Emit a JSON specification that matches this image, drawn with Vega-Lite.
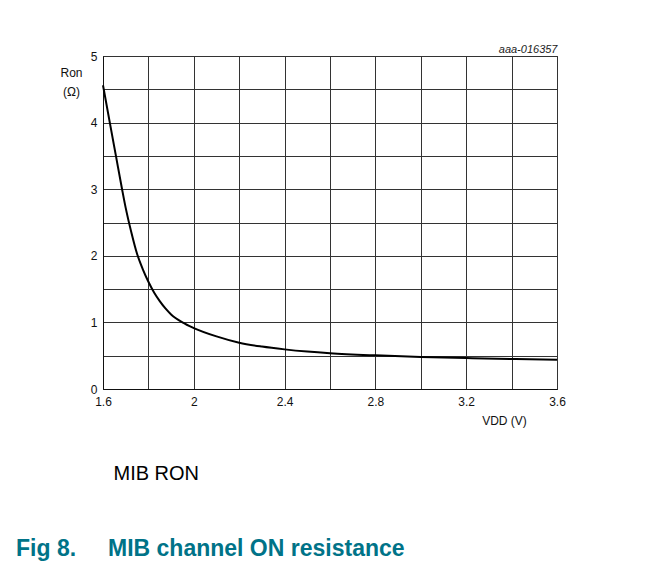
{
  "$schema": "https://vega.github.io/schema/vega-lite/v6.json",
  "width": 454,
  "height": 333,
  "autosize": "none",
  "padding": {"left": 103, "top": 56, "right": 103, "bottom": 180},
  "background": "white",
  "config": {
    "view": {"stroke": "#222", "strokeWidth": 1},
    "font": "Liberation Sans"
  },
  "title": {
    "text": "Fig 8.\u00a0\u00a0\u00a0\u00a0 MIB channel ON resistance",
    "orient": "bottom",
    "anchor": "start",
    "frame": "group",
    "dx": -87,
    "offset": 55,
    "font": "Liberation Sans",
    "fontSize": 23,
    "fontWeight": "bold",
    "color": "#007388"
  },
  "data": {
    "values": [
      {"vdd": 1.6, "ron": 4.56},
      {"vdd": 1.63, "ron": 4.0},
      {"vdd": 1.657, "ron": 3.5},
      {"vdd": 1.684, "ron": 3.0},
      {"vdd": 1.7, "ron": 2.72},
      {"vdd": 1.725, "ron": 2.35},
      {"vdd": 1.75, "ron": 2.03},
      {"vdd": 1.775, "ron": 1.8},
      {"vdd": 1.8, "ron": 1.61},
      {"vdd": 1.825, "ron": 1.45},
      {"vdd": 1.85, "ron": 1.32},
      {"vdd": 1.875, "ron": 1.21},
      {"vdd": 1.9, "ron": 1.12},
      {"vdd": 1.95, "ron": 1.0},
      {"vdd": 2.0, "ron": 0.915},
      {"vdd": 2.1, "ron": 0.79},
      {"vdd": 2.2, "ron": 0.695},
      {"vdd": 2.3, "ron": 0.637},
      {"vdd": 2.4, "ron": 0.595},
      {"vdd": 2.5, "ron": 0.562},
      {"vdd": 2.6, "ron": 0.537},
      {"vdd": 2.8, "ron": 0.505},
      {"vdd": 3.0, "ron": 0.482},
      {"vdd": 3.2, "ron": 0.465},
      {"vdd": 3.4, "ron": 0.451},
      {"vdd": 3.6, "ron": 0.44}
    ]
  },
  "layer": [
    {
      "mark": {"type": "line", "color": "black", "strokeWidth": 2, "interpolate": "monotone"},
      "encoding": {
        "x": {
          "field": "vdd",
          "type": "quantitative",
          "scale": {"domain": [1.6, 3.6], "nice": false, "zero": false},
          "axis": {
            "orient": "bottom",
            "values": [1.6, 1.8, 2.0, 2.2, 2.4, 2.6, 2.8, 3.0, 3.2, 3.4, 3.6],
            "format": ".2~f",
            "labelExpr": "(round(datum.value*10) % 4 === 0) ? datum.label : ''",
            "labelOverlap": false,
            "labelFlush": false,
            "labelBound": false,
            "labelFont": "Liberation Sans",
            "labelFontSize": 12,
            "labelColor": "#111",
            "labelPadding": 7,
            "ticks": false,
            "domainColor": "#111",
            "grid": true,
            "gridColor": "#333",
            "gridOpacity": 1,
            "title": "VDD (V)",
            "titleFont": "Liberation Sans",
            "titleFontSize": 12,
            "titleFontWeight": "normal",
            "titleColor": "#111",
            "titleAlign": "center",
            "titleBaseline": "alphabetic",
            "titleX": 401,
            "titleY": 35
          }
        },
        "y": {
          "field": "ron",
          "type": "quantitative",
          "scale": {"domain": [0, 5], "nice": false},
          "axis": {
            "values": [0, 0.5, 1, 1.5, 2, 2.5, 3, 3.5, 4, 4.5, 5],
            "format": ".2~f",
            "labelExpr": "(round(datum.value*2) % 2 === 0) ? datum.label : ''",
            "labelOverlap": false,
            "labelFlush": false,
            "labelBound": false,
            "labelFont": "Liberation Sans",
            "labelFontSize": 12,
            "labelColor": "#111",
            "labelPadding": 6,
            "ticks": false,
            "domainColor": "#111",
            "grid": true,
            "gridColor": "#333",
            "gridOpacity": 1,
            "title": ["Ron", "(Ω)"],
            "titleFont": "Liberation Sans",
            "titleFontSize": 12,
            "titleFontWeight": "normal",
            "titleColor": "#111",
            "titleAngle": 0,
            "titleAlign": "center",
            "titleBaseline": "top",
            "titleLineHeight": 19,
            "titleX": -32,
            "titleY": 11
          }
        }
      }
    },
    {
      "mark": {"type": "line", "strokeOpacity": 0},
      "encoding": {
        "x": {
          "field": "vdd",
          "type": "quantitative",
          "scale": {"domain": [1.6, 3.6], "nice": false, "zero": false},
          "axis": {
            "orient": "bottom",
            "labels": false,
            "ticks": false,
            "domain": false,
            "grid": false,
            "title": "MIB RON",
            "titleFont": "Liberation Sans",
            "titleFontSize": 20,
            "titleFontWeight": "normal",
            "titleColor": "#000",
            "titleAlign": "left",
            "titleBaseline": "alphabetic",
            "titleX": 10,
            "titleY": 90
          }
        }
      }
    },
    {
      "mark": {"type": "line", "strokeOpacity": 0},
      "encoding": {
        "x": {
          "field": "vdd",
          "type": "quantitative",
          "scale": {"domain": [1.6, 3.6], "nice": false, "zero": false},
          "axis": {
            "orient": "top",
            "labels": false,
            "ticks": false,
            "domain": false,
            "grid": false,
            "title": "aaa-016357",
            "titleFont": "Liberation Sans",
            "titleFontSize": 11,
            "titleFontWeight": "normal",
            "titleFontStyle": "italic",
            "titleColor": "#222",
            "titleAlign": "right",
            "titleBaseline": "alphabetic",
            "titleX": 454,
            "titleY": -4
          }
        }
      }
    }
  ],
  "resolve": {"axis": {"x": "independent"}}
}
